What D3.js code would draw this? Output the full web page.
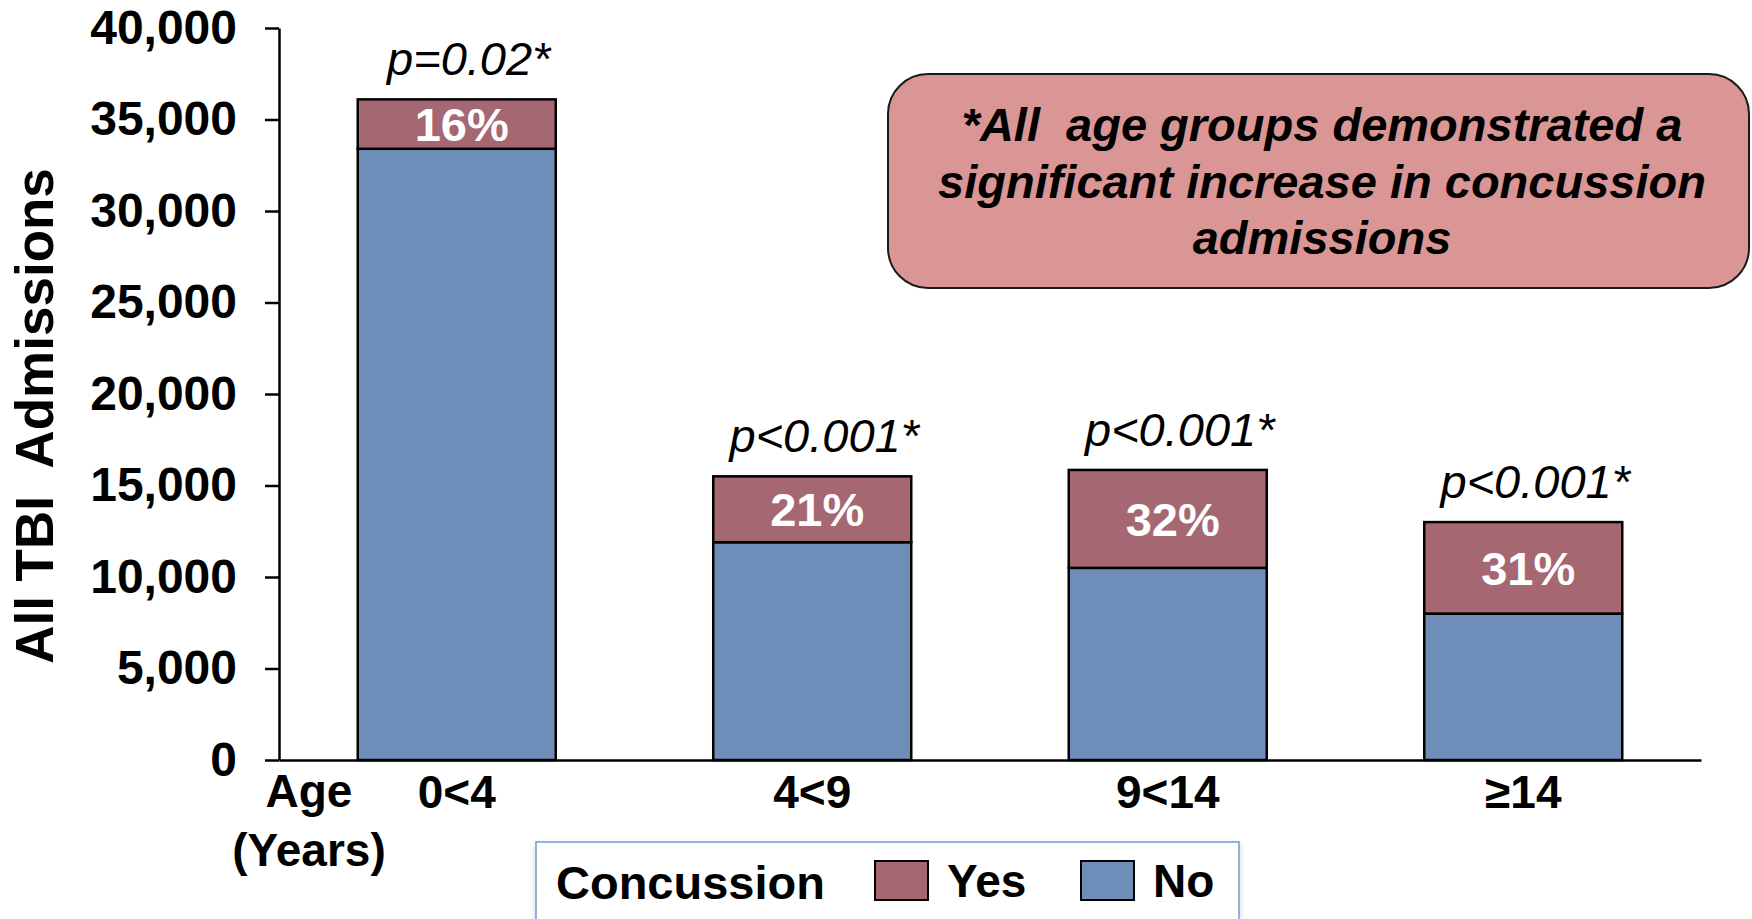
<!DOCTYPE html>
<html>
<head>
<meta charset="utf-8">
<script src="https://cdn.jsdelivr.net/npm/d3@7"></script>
<style>
  html, body { margin: 0; padding: 0; background: #ffffff; }
  svg { display: block; font-family: "Liberation Sans", Arial, sans-serif; }
</style>
</head>
<body>
<svg id="chart" width="1752" height="919"></svg>
<script>
// Age groups and admissions split by concussion status
const categories = ["0<4", "4<9", "9<14", "\u226514"];
const noConcussion = [33400, 11900, 10500, 8000];
const yesConcussion = [2700, 3600, 5350, 5000];
const shareLabels = ["16%", "21%", "32%", "31%"];
const pValueLabels = ["p=0.02*", "p<0.001*", "p<0.001*", "p<0.001*"];
const yTickValues = [0, 5000, 10000, 15000, 20000, 25000, 30000, 35000, 40000];
const seriesNames = ["Yes", "No"];
const noteLines = ["*All  age groups demonstrated a", "significant increase in concussion", "admissions"];

const COLORS = { Yes: "#A56872", No: "#6F8DB9" };

const svg = d3.select("#chart");
const plot = { left: 279, right: 1701, top: 28, bottom: 760 };

const x = d3.scaleBand()
  .domain(categories)
  .range([plot.left, plot.right])
  .paddingInner(0.443)
  .paddingOuter(0.2215);

const y = d3.scaleLinear()
  .domain([0, 40000])
  .range([plot.bottom, plot.top]);

const rows = categories.map((c, i) => ({ cat: c, No: noConcussion[i], Yes: yesConcussion[i] }));
const stacked = d3.stack().keys(["No", "Yes"])(rows);

// Stacked bars
const layers = svg.append("g").selectAll("g")
  .data(stacked)
  .join("g")
  .attr("fill", d => COLORS[d.key]);

layers.selectAll("rect")
  .data(d => d)
  .join("rect")
  .attr("x", d => x(d.data.cat))
  .attr("y", d => y(d[1]))
  .attr("width", x.bandwidth())
  .attr("height", d => y(d[0]) - y(d[1]))
  .attr("stroke", "#000")
  .attr("stroke-width", 2.5);

// Y axis
const yAxis = svg.append("g")
  .attr("transform", `translate(${plot.left},0)`)
  .call(d3.axisLeft(y)
    .tickValues(yTickValues)
    .tickFormat(d3.format(","))
    .tickSizeInner(14)
    .tickSizeOuter(0)
    .tickPadding(28));
yAxis.select(".domain").attr("stroke", "#000").attr("stroke-width", 2.5);
yAxis.selectAll(".tick line").attr("stroke", "#000").attr("stroke-width", 2.5);
yAxis.selectAll(".tick text")
  .attr("fill", "#000")
  .style("font-family", '"Liberation Sans", Arial, sans-serif')
  .style("font-size", "48px")
  .style("font-weight", "bold");

// X axis
const xAxis = svg.append("g")
  .attr("transform", `translate(0,${plot.bottom})`)
  .call(d3.axisBottom(x).tickSize(0).tickPadding(15));
xAxis.select(".domain").attr("stroke", "#000").attr("stroke-width", 2.5);
xAxis.selectAll(".tick text")
  .attr("fill", "#000")
  .style("font-family", '"Liberation Sans", Arial, sans-serif')
  .style("font-size", "46px")
  .style("font-weight", "bold");

// Age (Years) caption at the axis origin
const ageLabel = svg.append("text")
  .attr("text-anchor", "middle")
  .attr("font-size", 46)
  .attr("font-weight", "bold")
  .attr("fill", "#000");
ageLabel.append("tspan").attr("x", 309).attr("y", 807).text("Age");
ageLabel.append("tspan").attr("x", 309).attr("y", 866).text("(Years)");

// Y axis title
svg.append("text")
  .attr("transform", "translate(53,416) rotate(-90)")
  .attr("text-anchor", "middle")
  .attr("font-size", 53)
  .attr("font-weight", "bold")
  .attr("fill", "#000")
  .style("white-space", "pre")
  .text("All TBI  Admissions");

// Share labels inside the concussion segment
const yesLayer = stacked.find(s => s.key === "Yes");
svg.append("g").selectAll("text")
  .data(yesLayer)
  .join("text")
  .attr("x", d => x(d.data.cat) + x.bandwidth() / 2 + 5)
  .attr("y", d => (y(d[0]) + y(d[1])) / 2)
  .attr("dy", "0.36em")
  .attr("text-anchor", "middle")
  .attr("font-size", 47)
  .attr("font-weight", "bold")
  .attr("fill", "#fff")
  .text((d, i) => shareLabels[i]);

// p-values above each bar
svg.append("g").selectAll("text")
  .data(yesLayer)
  .join("text")
  .attr("x", d => x(d.data.cat) + x.bandwidth() / 2 + 12)
  .attr("y", d => y(d[1]) - 24)
  .attr("text-anchor", "middle")
  .attr("font-size", 47)
  .attr("font-style", "italic")
  .attr("fill", "#000")
  .text((d, i) => pValueLabels[i]);

// Note box
const note = svg.append("g");
note.append("rect")
  .attr("x", 888).attr("y", 74)
  .attr("width", 861).attr("height", 214)
  .attr("rx", 40).attr("ry", 40)
  .attr("fill", "#D99694")
  .attr("stroke", "#1a1a1a")
  .attr("stroke-width", 2);
note.append("g").selectAll("text")
  .data(noteLines)
  .join("text")
  .attr("x", 1322)
  .attr("y", (d, i) => 141 + i * 56.5)
  .attr("text-anchor", "middle")
  .attr("font-size", 47)
  .attr("font-weight", "bold")
  .attr("font-style", "italic")
  .attr("fill", "#000")
  .style("white-space", "pre")
  .text(d => d);

// Legend
const defs = svg.append("defs");
const shadow = defs.append("filter").attr("id", "legendShadow")
  .attr("x", "-5%").attr("y", "-20%").attr("width", "110%").attr("height", "140%");
shadow.append("feDropShadow")
  .attr("dx", 0).attr("dy", 3).attr("stdDeviation", 3)
  .attr("flood-color", "#000").attr("flood-opacity", 0.18);

const legend = svg.append("g");
legend.append("rect")
  .attr("x", 536).attr("y", 842)
  .attr("width", 703).attr("height", 100)
  .attr("fill", "#fff")
  .attr("stroke", "#6F9BD8")
  .attr("stroke-width", 1.5)
  .attr("filter", "url(#legendShadow)");
legend.append("text")
  .attr("x", 556).attr("y", 899)
  .attr("font-size", 47)
  .attr("font-weight", "bold")
  .attr("fill", "#000")
  .text("Concussion");

const legendX = { Yes: 875, No: 1081 };
const items = legend.selectAll("g.item")
  .data(seriesNames)
  .join("g")
  .attr("class", "item")
  .attr("transform", d => `translate(${legendX[d]},861)`);
items.append("rect")
  .attr("width", 53).attr("height", 39)
  .attr("fill", d => COLORS[d])
  .attr("stroke", "#000")
  .attr("stroke-width", 2);
items.append("text")
  .attr("x", 72).attr("y", 36)
  .attr("font-size", 46)
  .attr("font-weight", "bold")
  .attr("fill", "#000")
  .text(d => d);
</script>
</body>
</html>
